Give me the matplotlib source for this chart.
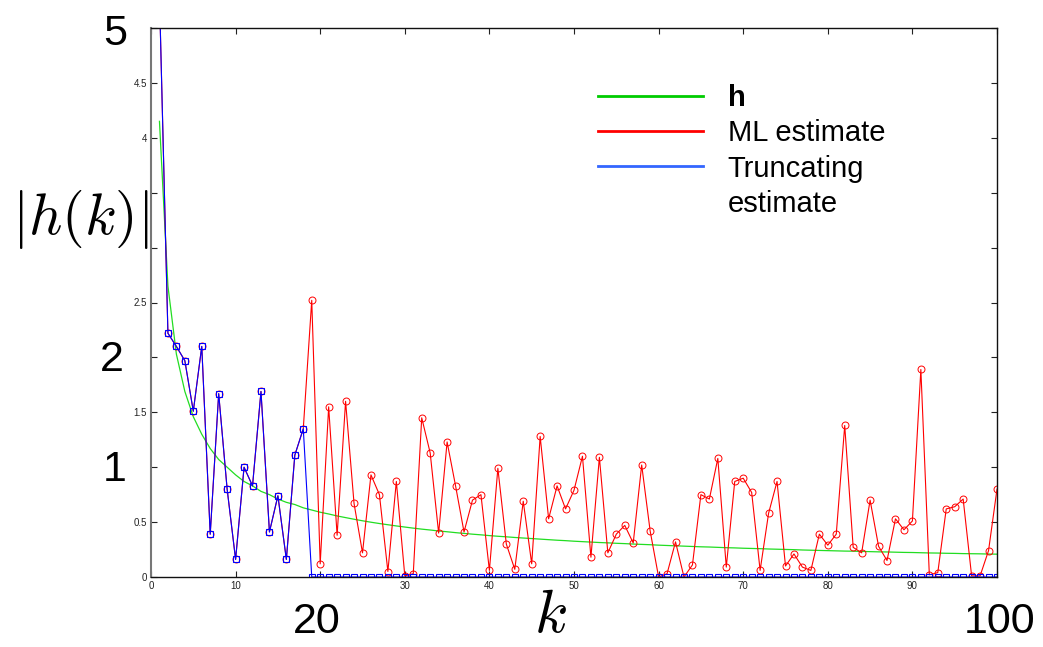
import matplotlib
matplotlib.use("Agg")
import matplotlib.pyplot as plt
from matplotlib.lines import Line2D
import numpy as np

W, H = 1043, 647

# k = 1..100
k_values = np.arange(1, 101)

# true |h(k)| (smooth green curve)
h_true = [4.15, 2.65, 2.03, 1.69, 1.46, 1.30, 1.17, 1.07, 1.00, 0.93,
          0.87, 0.83, 0.78, 0.75, 0.71, 0.68, 0.66, 0.63, 0.61, 0.59,
          0.574, 0.556, 0.541, 0.526, 0.512, 0.499, 0.487, 0.476, 0.465, 0.455,
          0.445, 0.436, 0.428, 0.419, 0.412, 0.404, 0.397, 0.390, 0.384, 0.377,
          0.371, 0.366, 0.360, 0.355, 0.350, 0.345, 0.340, 0.335, 0.331, 0.326,
          0.322, 0.318, 0.314, 0.311, 0.307, 0.304, 0.300, 0.297, 0.294, 0.290,
          0.287, 0.284, 0.281, 0.278, 0.275, 0.273, 0.270, 0.267, 0.265, 0.262,
          0.260, 0.258, 0.255, 0.253, 0.251, 0.249, 0.246, 0.244, 0.242, 0.240,
          0.238, 0.236, 0.235, 0.233, 0.231, 0.229, 0.228, 0.226, 0.224, 0.223,
          0.221, 0.219, 0.218, 0.216, 0.215, 0.213, 0.212, 0.211, 0.209, 0.208]

# first 18 coefficients (shared by both estimates)
head = [5.3, 2.22, 2.10, 1.97, 1.51, 2.10, 0.39, 1.67, 0.80, 0.16,
        1.00, 0.83, 1.69, 0.41, 0.74, 0.16, 1.11, 1.35]

# ML estimate for k = 19..100
ml_tail = [2.52, 0.12, 1.55, 0.38, 1.60, 0.67, 0.22, 0.93, 0.75, 0.05,
           0.87, 0.01, 0.03, 1.45, 1.13, 0.40, 1.23, 0.83, 0.41, 0.70,
           0.75, 0.06, 0.99, 0.30, 0.07, 0.69, 0.12, 1.28, 0.53, 0.83,
           0.62, 0.79, 1.10, 0.18, 1.09, 0.22, 0.39, 0.47, 0.31, 1.02,
           0.42, 0.00, 0.03, 0.32, 0.00, 0.11, 0.75, 0.71, 1.08, 0.09,
           0.87, 0.90, 0.77, 0.06, 0.58, 0.87, 0.10, 0.21, 0.09, 0.06,
           0.39, 0.29, 0.39, 1.38, 0.27, 0.22, 0.70, 0.28, 0.15, 0.53,
           0.43, 0.51, 1.89, 0.02, 0.04, 0.62, 0.64, 0.71, 0.01, 0.01,
           0.24, 0.80]

ml_est = head + ml_tail
trunc_est = head + [0.0] * len(ml_tail)

xtick_vals = [0, 10, 20, 30, 40, 50, 60, 70, 80, 90, 100]
xtick_text = ["0", "10", "", "30", "40", "50", "60", "70", "80", "90", ""]
ytick_vals = [0, 0.5, 1, 1.5, 2, 2.5, 3, 3.5, 4, 4.5, 5]
ytick_text = ["0", "0.5", "", "1.5", "", "2.5", "", "", "4", "4.5", ""]

legend_labels = ["h", "ML estimate", "Truncating\nestimate"]

plt.rcParams['font.family'] = ['Liberation Sans', 'DejaVu Sans']
plt.rcParams['mathtext.fontset'] = 'cm'

fig = plt.figure(figsize=(W / 100, H / 100), dpi=100)
ax = fig.add_axes([151 / W, 1 - 577 / H, (997 - 151) / W, (577 - 28) / H])

ax.plot(k_values, h_true, color='#22dd22', lw=0.9)
ax.plot(k_values, ml_est, color='#ff0000', lw=0.8, marker='o', ms=5,
        mfc='none', mew=0.7)
ax.plot(k_values, trunc_est, color='#0000ff', lw=0.8, marker='s', ms=5,
        mfc='none', mew=0.8)

ax.set_xlim(0, 100)
ax.set_ylim(0, 5)
ax.set_xticks(xtick_vals)
ax.set_xticklabels(xtick_text)
ax.set_yticks(ytick_vals)
ax.set_yticklabels(ytick_text)
ax.tick_params(direction='in', length=4, width=0.8, labelsize=7,
               colors='#222222', top=True, right=True, pad=3)
for side in ['top', 'right', 'bottom']:
    ax.spines[side].set_color('#111111')
    ax.spines[side].set_linewidth(1.0)
ax.spines['left'].set_color('#777777')
ax.spines['left'].set_linewidth(1.5)

# legend: the wrapped third label keeps its line sample on the first row
handles = [Line2D([], [], color='#00cc00', lw=2),
           Line2D([], [], color='#ff0000', lw=2),
           Line2D([], [], color='#3366ff', lw=2),
           Line2D([], [], color='none', lw=0)]
labels = legend_labels[:2] + legend_labels[2].split("\n")
leg = ax.legend(handles, labels, loc='upper left',
                bbox_to_anchor=(598 / W, 1 - 84 / H), bbox_transform=fig.transFigure,
                frameon=False, fontsize=21, handlelength=3.6, handletextpad=0.85,
                labelspacing=0.25, borderpad=0, borderaxespad=0)
leg.get_texts()[0].set_fontweight('bold')


def fig_text(x, y, s, size, va='center'):
    fig.text(x / W, 1 - y / H, s, fontsize=size, ha='center', va=va)


# large overlaid labels
fig_text(115, 34, "5", 31)
fig_text(112, 360, "2", 31)
fig_text(115, 470, "1", 31)
fig_text(80, 219, r"$|h(k)|$", 42)
fig_text(317, 622, "20", 31)
fig_text(1000, 622, "100", 31)
fig_text(550, 645, r"$k$", 44, va='bottom')

fig.savefig("out.png", dpi=100)
